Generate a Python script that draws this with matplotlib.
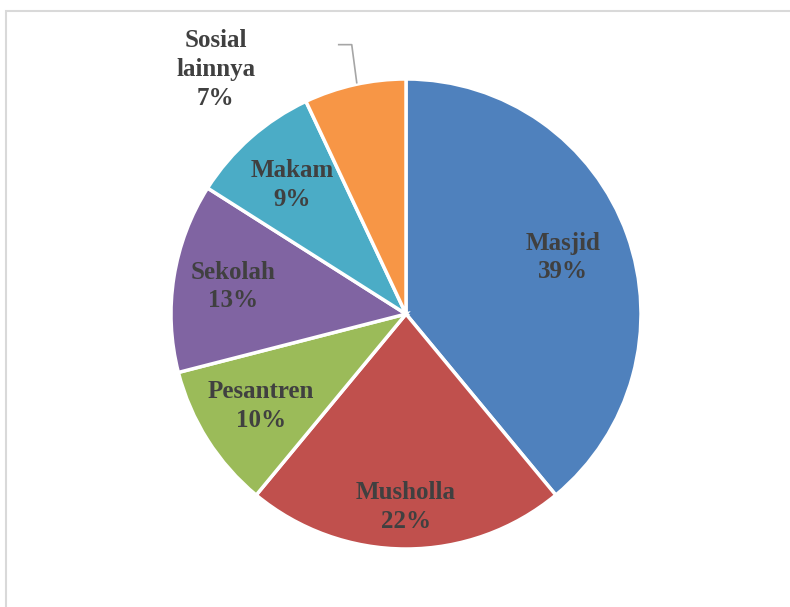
import numpy as np
import matplotlib.pyplot as plt
from matplotlib.patches import Rectangle

labels = ['Masjid', 'Musholla', 'Pesantren', 'Sekolah', 'Makam', 'Sosial\nlainnya']
values = [39, 22, 10, 13, 9, 7]
colors = ['#4f81bd', '#c0504d', '#9bbb59', '#8064a2', '#4bacc6', '#f79646']
# how far out each label sits, as a fraction of the radius
label_dist = [0.71, 0.82, 0.73, 0.745, 0.73, 1.55]

W, H = 790, 607
fig = plt.figure(figsize=(W / 100, H / 100), dpi=100)
ax = fig.add_axes([0, 0, 1, 1])

cx, cy, r = 406, H - 314, 235
wedges, _ = ax.pie(values, colors=colors, startangle=90, counterclock=False,
                   center=(cx, cy), radius=r,
                   wedgeprops=dict(edgecolor='white', linewidth=2.5))
ax.set_xlim(0, W)
ax.set_ylim(0, H)
ax.set_aspect('equal')
ax.axis('off')

font = dict(family='Liberation Serif', weight='bold', size=18, color='#404040')
for w, lab, v, d in zip(wedges, labels, values, label_dist):
    ang = np.deg2rad((w.theta1 + w.theta2) / 2)
    if d < 1:
        x = cx + d * r * np.cos(ang)
        y = cy + d * r * np.sin(ang)
        ax.text(x, y, f'{lab}\n{v}%', ha='center', va='center',
                linespacing=1.32, **font)
    else:
        # small slice: label outside with a leader line
        ex, ey = cx + r * np.cos(ang), cy + r * np.sin(ang)
        ax.text(ex - 139, ey + 15, f'{lab}\n{v}%', ha='center', va='center',
                linespacing=1.32, **font)
        ax.plot([ex + 2, ex - 3, ex - 16], [ey + 2, ey + 40, ey + 40],
                color='#a6a6a6', lw=1.2)

# chart area border (runs off the right and bottom edges)
fig.patches.append(Rectangle((6 / W, -1), 2, 1 + (H - 11) / H, transform=fig.transFigure,
                             fill=False, edgecolor='#d9d9d9', lw=1.5))

fig.savefig('out.png', dpi=100)
